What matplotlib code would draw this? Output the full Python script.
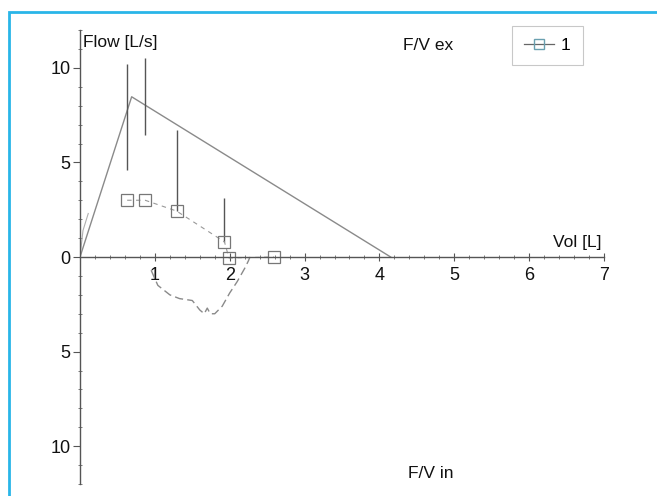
import matplotlib
matplotlib.use("Agg")
import matplotlib.pyplot as plt
from matplotlib.lines import Line2D
from matplotlib.patches import Rectangle

plt.rcParams['font.family'] = ['Liberation Sans', 'DejaVu Sans']

# ---- data ----
# expiratory predicted line (solid)
exp_x = [0.0, 0.69, 4.15]
exp_y = [0.0, 8.47, 0.0]
# measured squares
sq_x = [0.63, 0.87, 1.29, 1.93, 1.99, 2.59]
sq_y = [3.0, 3.0, 2.43, 0.8, -0.05, 0.0]
# error bars (vertical ranges)
err_x = [0.63, 0.87, 1.29, 1.93]
err_lo = [4.6, 6.45, 2.43, 0.8]
err_hi = [10.2, 10.5, 6.7, 3.1]
# faint start of measured curve near origin
start_x = [0.0, 0.04, 0.11]
start_y = [0.0, 1.4, 2.3]
# inspiratory curve (dashed, plotted downward)
insp_x = [0.95, 1.04, 1.2, 1.33, 1.5, 1.6, 1.66, 1.7, 1.74, 1.8, 1.9, 2.0, 2.1, 2.2, 2.25, 2.27]
insp_y = [-0.7, -1.5, -2.0, -2.2, -2.3, -2.8, -3.0, -2.7, -3.0, -3.0, -2.6, -1.9, -1.3, -0.6, -0.2, 0.0]

xtick_vals = [1, 2, 3, 4, 5, 6, 7]
ytick_vals = [-10, -5, 0, 5, 10]
ytick_labels = ["10", "5", "0", "5", "10"]

W, H = 657, 496
fig = plt.figure(figsize=(W / 100, H / 100), dpi=100)
fig.patch.set_facecolor('white')

ax = fig.add_axes([80 / W, (H - 484) / H, 524 / W, 454 / H])
ax.set_xlim(0, 7)
ax.set_ylim(-12, 12)
ax.patch.set_alpha(0)

for s in ['top', 'right']:
    ax.spines[s].set_visible(False)
ax.spines['left'].set_position(('data', 0))
ax.spines['bottom'].set_position(('data', 0))
ax.spines['left'].set_color('#555555')
ax.spines['bottom'].set_color('#555555')
ax.spines['left'].set_linewidth(1.0)
ax.spines['bottom'].set_linewidth(1.0)

ax.set_xticks(xtick_vals)
ax.set_xticks([i * 0.2 for i in range(0, 36)], minor=True)
ax.set_yticks(ytick_vals)
ax.set_yticklabels(ytick_labels)
ax.set_yticks(list(range(-12, 13)), minor=True)
ax.tick_params(axis='x', which='major', direction='inout', length=6, width=0.8,
               colors='#555555', labelcolor='#111111', labelsize=13, pad=4)
ax.tick_params(axis='x', which='minor', direction='inout', length=3, width=0.6, colors='#666666')
ax.tick_params(axis='y', which='major', direction='out', length=5, width=0.8,
               colors='#555555', labelcolor='#111111', labelsize=13, pad=2)
ax.tick_params(axis='y', which='minor', direction='inout', length=3, width=0.6, colors='#666666')

# predicted expiratory line
ax.plot(exp_x, exp_y, color='#8a8a8a', lw=1.0)
# faint start
ax.plot(start_x, start_y, color='#b0b0b0', lw=0.8)
# error bars
ax.vlines(err_x, err_lo, err_hi, color='#555555', lw=1.0)
# measured curve with squares
ax.plot(sq_x, sq_y, color='#999999', lw=0.8, ls=(0, (4, 4)))
ax.plot(sq_x, sq_y, ls='none', marker='s', ms=8.5, mfc='none', mec='#777777', mew=0.9)
# inspiratory curve
ax.plot(insp_x, insp_y, color='#8a8a8a', lw=1.0, ls=(0, (6, 3)))

# texts
def ftext(x, y, s):
    fig.text(x / W, 1 - y / H, s, fontsize=12.5, color='#111111', va='center', ha='left')

ftext(83, 43, "Flow [L/s]")
ftext(403, 45, "F/V ex")
ftext(553, 242, "Vol [L]")
ftext(408, 473, "F/V in")

# legend
handle = Line2D([], [], color='#666666', lw=0.9, marker='s', ms=7, mfc='none', mec='#6aa0b0')
leg = fig.legend([handle], ["1"], loc='upper left', bbox_to_anchor=(512 / W, 1 - 26 / H),
                 borderaxespad=0, fancybox=False, fontsize=12.5, handlelength=1.7,
                 borderpad=0.7, handletextpad=0.4)
leg.get_frame().set_edgecolor('#bbbbbb')
leg.get_frame().set_linewidth(0.8)

# cyan frame
fig.patches.append(Rectangle((9 / W, -0.1), 2.0, 1 - 12 / H + 0.1, transform=fig.transFigure,
                             fill=False, ec='#29b5e8', lw=2.0))

fig.savefig('out.png', dpi=100)
